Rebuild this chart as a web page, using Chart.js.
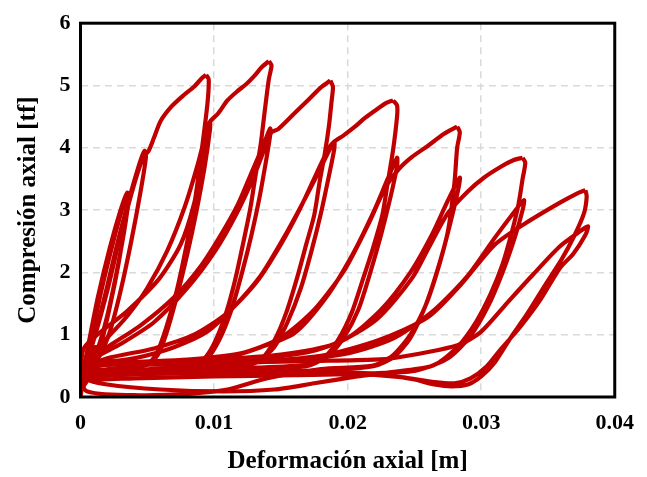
<!DOCTYPE html>
<html>
<head>
<meta charset="utf-8">
<script src="https://cdn.jsdelivr.net/npm/chart.js@4/dist/chart.umd.min.js"></script>
<style>
  html, body { margin: 0; padding: 0; background: #fff; }
  #wrap { width: 647px; height: 477px; }
</style>
</head>
<body>
<div id="wrap"><canvas id="grafico" width="647" height="477"></canvas></div>
<script>
// Ensayo ciclico: pares [deformacion axial (m), compresion axial (tf)]
const lazoInicial = [
  [0, 0], [0.0002, 0.3], [0.0005, 0.62], [0.0008, 0.78], [0.0007, 0.55], [0.0004, 0.3],
  [0.0001, 0.12], [0.0004, 0.45], [0.0008, 0.72], [0.0011, 0.8], [0.001, 0.55], [0.0006, 0.3],
  [0.0002, 0.18], [0.0001, 0.3]
];

const grupoA = [
  [0.0001, 0.3], [0.0006, 0.85], [0.0013, 1.6], [0.0022, 2.4], [0.003, 3.0], [0.0035, 3.28],
  [0.0036, 3.18], [0.0033, 2.7], [0.0027, 2.0], [0.002, 1.3], [0.0013, 0.78], [0.0007, 0.5],
  [0.0002, 0.4], [0.0007, 0.82], [0.0015, 1.65], [0.0024, 2.45], [0.0031, 3.0], [0.0035, 3.22],
  [0.0034, 2.9], [0.0029, 2.2], [0.0022, 1.45], [0.0014, 0.75], [0.0006, 0.45], [0.0001, 0.4]
];

const grupoB = [
  [0.0001, 0.4], [0.0008, 0.8], [0.0018, 1.6], [0.0028, 2.5], [0.0038, 3.3], [0.0045, 3.8],
  [0.0048, 3.95], [0.0049, 3.85], [0.0045, 3.3], [0.0038, 2.5], [0.003, 1.7], [0.0022, 1.05],
  [0.0014, 0.65], [0.0006, 0.45], [0.0001, 0.42], [0.0009, 0.85], [0.002, 1.7], [0.003, 2.6],
  [0.004, 3.4], [0.0047, 3.85], [0.0051, 3.95], [0.0055, 4.16], [0.006, 4.43], [0.0068, 4.66],
  [0.0077, 4.84], [0.0085, 4.98], [0.0091, 5.12], [0.0094, 5.17]
];

const grupo1 = [
  [0.0094, 5.17], [0.0096, 5.1], [0.0095, 4.7], [0.0091, 4.0], [0.0086, 3.2], [0.008, 2.5],
  [0.0072, 1.7], [0.0064, 1.1], [0.0057, 0.7], [0.005, 0.52], [0.0035, 0.45], [0.0018, 0.4],
  [0.0002, 0.38],
  [0.0003, 0.8], [0.0035, 1.38], [0.0059, 1.9], [0.0075, 2.45], [0.0085, 3.1], [0.0092, 3.85],
  [0.0095, 4.25], [0.0097, 4.42],
  [0.0097, 4.3], [0.0093, 3.7], [0.0087, 3.0], [0.008, 2.3], [0.0072, 1.6], [0.0064, 1.0],
  [0.0058, 0.68], [0.005, 0.52], [0.003, 0.47], [0.001, 0.42], [0.0002, 0.45],
  [0.0008, 0.7], [0.002, 0.95], [0.0035, 1.3], [0.005, 1.75], [0.0065, 2.35], [0.0078, 3.05],
  [0.0088, 3.75], [0.0094, 4.25], [0.0097, 4.42],
  [0.0103, 4.55], [0.011, 4.76], [0.0117, 4.9], [0.0124, 5.02], [0.013, 5.15], [0.0136, 5.3],
  [0.0141, 5.39]
];

const grupo2 = [
  [0.0141, 5.39], [0.0143, 5.32], [0.0141, 5.1], [0.0138, 4.6], [0.0135, 4.07], [0.0131, 3.55],
  [0.0127, 3.01], [0.0122, 2.49], [0.0116, 1.9], [0.0109, 1.35], [0.0101, 0.9], [0.0093, 0.62],
  [0.0085, 0.5], [0.006, 0.44], [0.003, 0.4], [0.0003, 0.36],
  [0.0003, 0.55], [0.002, 0.8], [0.0045, 1.15], [0.007, 1.6], [0.009, 2.1], [0.0105, 2.6],
  [0.0118, 3.1], [0.0128, 3.6], [0.0137, 4.05], [0.0142, 4.31],
  [0.0142, 4.2], [0.0139, 3.8], [0.0134, 3.2], [0.0128, 2.6], [0.0121, 2.0], [0.0113, 1.4],
  [0.0104, 0.92], [0.0095, 0.62], [0.0085, 0.5], [0.006, 0.46], [0.003, 0.42], [0.0004, 0.47],
  [0.001, 0.62], [0.003, 0.85], [0.0055, 1.2], [0.008, 1.75], [0.0101, 2.35], [0.0117, 2.95],
  [0.013, 3.55], [0.0139, 4.05], [0.0143, 4.25],
  [0.0148, 4.3], [0.016, 4.55], [0.0172, 4.8], [0.018, 4.97], [0.0187, 5.08]
];

const grupo3 = [
  [0.0187, 5.08], [0.0189, 4.98], [0.0188, 4.75], [0.0186, 4.35], [0.0183, 3.92], [0.0179, 3.45],
  [0.0175, 2.92], [0.0169, 2.45], [0.0162, 1.9], [0.0154, 1.35], [0.0145, 0.9], [0.0136, 0.62],
  [0.0125, 0.5], [0.009, 0.43], [0.005, 0.38], [0.0003, 0.35],
  [0.0003, 0.5], [0.004, 0.62], [0.007, 0.8], [0.0095, 1.05], [0.0115, 1.45], [0.0135, 1.95],
  [0.0152, 2.55], [0.0166, 3.1], [0.0178, 3.6], [0.0186, 3.95], [0.019, 4.1],
  [0.019, 3.98], [0.0186, 3.55], [0.018, 2.95], [0.0173, 2.35], [0.0165, 1.75], [0.0155, 1.2],
  [0.0145, 0.8], [0.0133, 0.58], [0.012, 0.5], [0.008, 0.46], [0.004, 0.43], [0.0004, 0.46],
  [0.002, 0.62], [0.0055, 0.78], [0.0085, 1.0], [0.011, 1.35], [0.0132, 1.85], [0.015, 2.45],
  [0.0165, 3.05], [0.0177, 3.6], [0.0186, 4.0], [0.019, 4.1],
  [0.0197, 4.2], [0.0205, 4.33], [0.0213, 4.48], [0.0222, 4.62], [0.0229, 4.72], [0.0234, 4.76]
];

const grupo4 = [
  [0.0234, 4.76], [0.0237, 4.68], [0.0237, 4.5], [0.0234, 3.96], [0.023, 3.44], [0.0226, 2.92],
  [0.0219, 2.39], [0.0211, 1.86], [0.0203, 1.35], [0.0193, 0.92], [0.0182, 0.62], [0.017, 0.5],
  [0.014, 0.45], [0.009, 0.41], [0.004, 0.38], [0.0003, 0.35],
  [0.0003, 0.5], [0.006, 0.57], [0.011, 0.64], [0.0135, 0.8], [0.016, 1.02], [0.0184, 1.6],
  [0.0204, 2.3], [0.0219, 2.95], [0.023, 3.5], [0.0237, 3.84],
  [0.0237, 3.7], [0.0232, 3.2], [0.0225, 2.6], [0.0217, 2.0], [0.0208, 1.4], [0.0197, 0.95],
  [0.0185, 0.65], [0.017, 0.52], [0.013, 0.47], [0.008, 0.45], [0.003, 0.42], [0.0004, 0.45],
  [0.003, 0.55], [0.008, 0.6], [0.012, 0.7], [0.015, 0.95], [0.0175, 1.4], [0.0198, 2.05],
  [0.0215, 2.75], [0.0228, 3.35], [0.0238, 3.65],
  [0.0248, 3.85], [0.026, 4.03], [0.0272, 4.22], [0.0282, 4.34]
];

const grupo5 = [
  [0.0282, 4.34], [0.0284, 4.25], [0.0282, 4.0], [0.028, 3.44], [0.0275, 2.65], [0.0267, 2.02],
  [0.0258, 1.45], [0.0247, 0.95], [0.0235, 0.65], [0.022, 0.5], [0.019, 0.44], [0.014, 0.4],
  [0.008, 0.38], [0.003, 0.36], [0.0003, 0.35],
  [0.0003, 0.5], [0.006, 0.55], [0.012, 0.6], [0.017, 0.72], [0.02, 0.95], [0.0225, 1.4],
  [0.0247, 2.0], [0.0263, 2.6], [0.0275, 3.15], [0.0284, 3.52],
  [0.0283, 3.35], [0.0277, 2.8], [0.0269, 2.15], [0.0259, 1.5], [0.0247, 1.0], [0.0233, 0.65],
  [0.0218, 0.5], [0.018, 0.45], [0.014, 0.3], [0.011, 0.12], [0.008, 0.05], [0.004, 0.03],
  [0.0004, 0.1],
  [0.0004, 0.45], [0.004, 0.55], [0.01, 0.6], [0.015, 0.68], [0.019, 0.85], [0.0222, 1.25],
  [0.0248, 1.9], [0.0262, 2.45], [0.0275, 2.95], [0.029, 3.3], [0.0302, 3.52], [0.0315, 3.7],
  [0.0324, 3.8], [0.0331, 3.84]
];

const grupo6 = [
  [0.0331, 3.84], [0.0333, 3.76], [0.0331, 3.5], [0.0328, 3.1], [0.0323, 2.65], [0.0316, 2.13],
  [0.0307, 1.65], [0.0296, 1.2], [0.0283, 0.82], [0.0268, 0.55], [0.025, 0.42], [0.022, 0.38],
  [0.016, 0.35], [0.01, 0.33], [0.004, 0.3], [0.0003, 0.3],
  [0.0003, 0.5], [0.008, 0.52], [0.015, 0.58], [0.02, 0.7], [0.0235, 0.95], [0.0265, 1.4],
  [0.029, 1.95], [0.031, 2.55], [0.0324, 2.95], [0.0332, 3.16],
  [0.0331, 3.0], [0.0325, 2.55], [0.0316, 2.0], [0.0305, 1.45], [0.0292, 0.98], [0.0277, 0.65],
  [0.026, 0.48], [0.0225, 0.38], [0.0207, 0.33], [0.0175, 0.22], [0.0145, 0.12], [0.0107, 0.09],
  [0.006, 0.12], [0.002, 0.2], [0.0004, 0.3],
  [0.0004, 0.5], [0.005, 0.52], [0.012, 0.56], [0.018, 0.66], [0.0223, 0.91], [0.026, 1.28],
  [0.0285, 1.81], [0.031, 2.44], [0.0334, 2.8], [0.0359, 3.12], [0.0372, 3.27], [0.0378, 3.32]
];

const grupo7 = [
  [0.0378, 3.32], [0.0379, 3.22], [0.0377, 2.95], [0.037, 2.6], [0.036, 2.2], [0.0348, 1.8],
  [0.0334, 1.32], [0.0322, 0.95], [0.031, 0.55], [0.03, 0.33], [0.029, 0.2], [0.0278, 0.17],
  [0.0265, 0.2], [0.025, 0.28], [0.023, 0.35], [0.02, 0.4], [0.015, 0.42], [0.01, 0.4],
  [0.005, 0.38], [0.0003, 0.35],
  [0.0003, 0.5], [0.01, 0.55], [0.018, 0.58], [0.022, 0.6], [0.0236, 0.63], [0.0267, 0.75],
  [0.0285, 0.85], [0.03, 1.05], [0.0319, 1.5], [0.0339, 1.97], [0.0359, 2.42], [0.0374, 2.66],
  [0.038, 2.74],
  [0.0378, 2.6], [0.0369, 2.3], [0.0359, 2.07], [0.0344, 1.55], [0.0329, 1.12], [0.0314, 0.75],
  [0.0304, 0.49], [0.0292, 0.3], [0.028, 0.22], [0.0265, 0.24], [0.024, 0.32], [0.02, 0.38],
  [0.015, 0.4]
];

const grupos = [lazoInicial, grupoA, grupoB, grupo1, grupo2, grupo3, grupo4, grupo5, grupo6, grupo7];

const ticksX = [0, 0.01, 0.02, 0.03, 0.04];
const ticksY = [0, 1, 2, 3, 4, 5, 6];

const rojo = '#c00000';
const fuenteTicks = { family: "'Liberation Serif', 'Times New Roman', serif", size: 22, weight: 'bold' };
const fuenteTitulo = { family: "'Liberation Serif', 'Times New Roman', serif", size: 25, weight: 'bold' };

// marco negro alrededor del area de trazado
const marco = {
  id: 'marco',
  afterDraw(chart) {
    const a = chart.chartArea;
    const c = chart.ctx;
    c.save();
    c.strokeStyle = '#000';
    c.lineWidth = 3;
    c.strokeRect(a.left, a.top, a.right - a.left, a.bottom - a.top);
    c.restore();
  }
};

const datasets = grupos.map(g => ({
  data: g.map(p => ({ x: p[0], y: p[1] })),
  showLine: true,
  borderColor: rojo,
  borderWidth: 4.2,
  pointRadius: 0,
  tension: 0.25,
  fill: false
}));

new Chart(document.getElementById('grafico'), {
  type: 'scatter',
  data: { datasets: datasets },
  options: {
    responsive: false,
    animation: false,
    events: [],
    layout: { padding: { left: 10, top: 18, right: 24, bottom: 0 } },
    plugins: { legend: { display: false }, tooltip: { enabled: false } },
    scales: {
      x: {
        type: 'linear',
        min: ticksX[0],
        max: ticksX[ticksX.length - 1],
        afterBuildTicks: s => { s.ticks = ticksX.map(v => ({ value: v })); },
        afterFit: s => { s.height = 80; },
        ticks: {
          color: '#000',
          font: fuenteTicks,
          padding: 13,
          maxRotation: 0,
          callback: v => String(Number(v.toFixed(2)))
        },
        grid: { color: '#d9d9d9', lineWidth: 1.5, drawTicks: false },
        border: { display: false, dash: [7, 5] },
        title: {
          display: true,
          text: 'Deformación axial [m]',
          color: '#000',
          font: fuenteTitulo,
          padding: { top: 0, bottom: 0 }
        }
      },
      y: {
        type: 'linear',
        min: ticksY[0],
        max: ticksY[ticksY.length - 1],
        afterBuildTicks: s => { s.ticks = ticksY.map(v => ({ value: v })); },
        afterFit: s => { s.width = 70.5; },
        ticks: {
          color: '#000',
          font: fuenteTicks,
          padding: 10,
          callback: v => String(v)
        },
        grid: { color: '#d9d9d9', lineWidth: 1.5, drawTicks: false },
        border: { display: false, dash: [7, 5] },
        title: {
          display: true,
          text: 'Compresión axial [tf]',
          color: '#000',
          font: fuenteTitulo,
          padding: { top: 4, bottom: 0 }
        }
      }
    }
  },
  plugins: [marco]
});
</script>
</body>
</html>
